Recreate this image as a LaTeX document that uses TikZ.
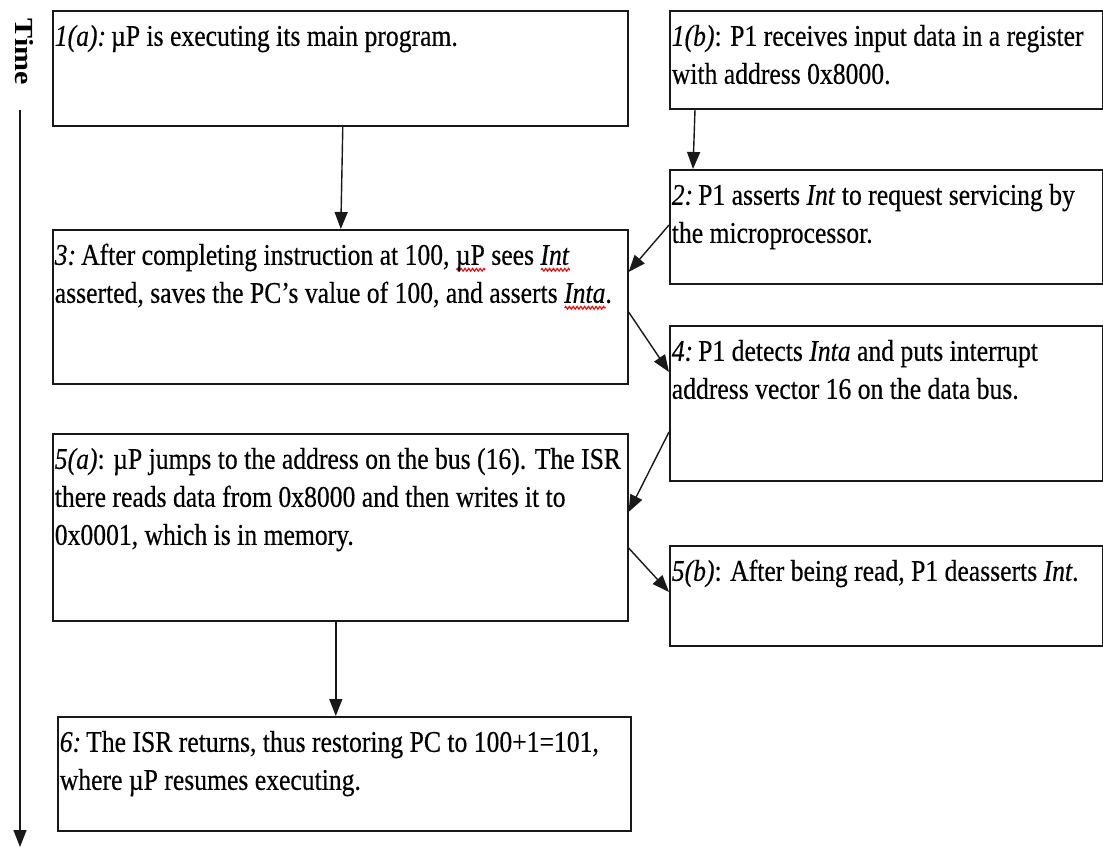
\documentclass[tikz,border=0pt]{standalone}
\usepackage{fontspec}
\usepackage{graphicx}
\setmainfont{Liberation Serif}[FakeStretch=0.855, FakeBold=0.4]
\newfontfamily\timefont{Liberation Serif}
\usetikzlibrary{arrows.meta,calc,decorations.pathmorphing}

% red zigzag underline, spell-check style
\newlength\wavelen
\newcommand\redwave[1]{\settowidth\wavelen{#1}\rlap{\tikz[baseline=0pt]\draw[red, line width=1.1pt,
  decorate, decoration={zigzag, amplitude=1.4pt, segment length=3.8pt}] (0pt,-5pt) -- (\wavelen,-5pt);}#1}

% step label in italics, followed by a narrow gap
\newcommand\lbl[1]{\textit{#1}\nocorr\hspace{5pt}}
% top-aligned text block of fixed height and width
\newcommand\boxbody[3]{\parbox[t][#1][t]{#2}{\raggedright\leftskip=2pt\rule{0pt}{35pt}#3}}

\tikzset{
  stepbox/.style={draw=black!90, line width=1.6pt, inner sep=0pt, anchor=north west,
                  font=\fontsize{30pt}{38pt}\selectfont},
  arr/.style={line width=1.4pt, draw=black!90, -{Triangle[length=17pt,width=13pt]}},
  timelbl/.style={rotate=-90, inner sep=0pt, font=\timefont\bfseries\fontsize{30pt}{30pt}\selectfont},
}

\begin{document}
\begin{tikzpicture}[x=1pt, y=-1pt]
\useasboundingbox (0,0) rectangle (1103,848);

% time axis
\node[timelbl] (time) at (24,52) {\scalebox{1}[0.87]{Time}};
\coordinate (tstart) at (20,110);
\coordinate (tend) at (20,847);
\draw[arr] (tstart) -- (tend);

% microprocessor side (left) and peripheral side (right)
\node[stepbox] (n1a) at (52,10) {\boxbody{115pt}{575pt}{\lbl{1(a):}µP is executing its main program.}};
\node[stepbox] (n1b) at (669,10) {\boxbody{98pt}{433pt}{\textit{1(b)}: P1 receives input data in a register\\with address 0x8000.}};
\node[stepbox] (n2) at (669,169) {\boxbody{114pt}{433pt}{\lbl{2:}P1 asserts \textit{Int} to request servicing by\\the microprocessor.}};
\node[stepbox] (n3) at (52,229) {\boxbody{154pt}{575pt}{\lbl{3:}After completing instruction at 100, \redwave{µP} sees \redwave{\textit{Int}}\\asserted, saves the PC’s value of 100, and asserts \redwave{\textit{Inta}}.}};
\node[stepbox] (n4) at (669,325) {\boxbody{155pt}{433pt}{\lbl{4:}P1 detects \textit{Inta} and puts interrupt\\address vector 16 on the data bus.}};
\node[stepbox] (n5a) at (52,433) {\boxbody{187pt}{575pt}{\textit{5(a)}: µP jumps to the address on the bus (16). The ISR\\there reads data from 0x8000 and then writes it to\\0x0001, which is in memory.}};
\node[stepbox] (n5b) at (669,545) {\boxbody{100pt}{433pt}{\textit{5(b)}: After being read, P1 deasserts \textit{Int}.}};
\node[stepbox] (n6) at (57,716) {\boxbody{114pt}{573pt}{\lbl{6:}The ISR returns, thus restoring PC to 100+1=101,\\where µP resumes executing.}};

% connectors
\draw[arr] ([xshift=2.5pt]n1a.south) -- ([xshift=0.5pt]n3.north);
\draw[arr] ([xshift=26pt]n1b.south west) -- ([xshift=24pt]n2.north west);
\draw[arr] ([yshift=-56pt]n2.north west) -- ([yshift=-43pt]n3.north east);
\draw[arr] ([yshift=-83pt]n3.north east) -- ([yshift=-47pt]n4.north west);
\draw[arr] ([yshift=-107pt]n4.north west) -- ([yshift=-79pt]n5a.north east);
\draw[arr] ([yshift=-115pt]n5a.north east) -- ([yshift=-47pt]n5b.north west);
\draw[arr] ([xshift=-4.5pt]n5a.south) -- ([xshift=-8.5pt]n6.north);
\end{tikzpicture}
\end{document}
